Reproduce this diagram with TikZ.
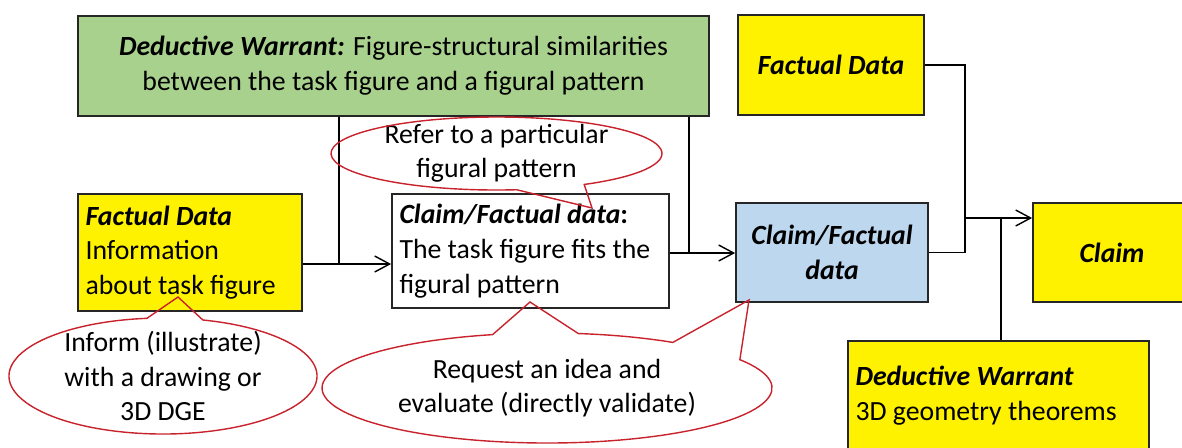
\documentclass[tikz,border=0pt]{standalone}
\usepackage{fontspec}
\setmainfont{Carlito}
\usetikzlibrary{arrows.meta,calc}
\definecolor{warrantgreen}{RGB}{169,209,142}
\definecolor{claimblue}{RGB}{189,215,238}
\definecolor{notered}{RGB}{200,35,45}
\tikzset{
  box/.style={draw=black!85, line width=1pt, inner sep=0pt, align=center, font=\fontsize{15.8}{19.8}\selectfont},
  yellowbox/.style={box, fill=yellow},
  leftbox/.style={align=flush left, inner xsep=0.15cm},
  note/.style={align=center, inner sep=0pt, font=\fontsize{15.8}{19.5}\selectfont},
  link/.style={line width=0.8pt},
  arrow/.style={-{Straight Barb[length=3mm,width=3.2mm]}, line width=0.8pt},
  callout/.style={draw=notered, line width=0.8pt}
}

\begin{document}
\begin{tikzpicture}[x=0.02cm, y=-0.02cm]
\useasboundingbox (0,0) rectangle (1182,447);
\clip (0,0) rectangle (1182,447);
% boxes
\node[box, fill=warrantgreen, minimum width=12.62cm, minimum height=2cm] (warrant) at (393.5,66) {\textbf{\textit{Deductive Warrant:}} Figure-structural similarities\\between the task figure and a figural pattern};
\node[yellowbox, leftbox, text width=4.18cm, minimum height=2.34cm] (datum) at (190,252.5) {\textbf{\textit{Factual Data}}\\Information\\about task figure};
\node[box, leftbox, fill=white, text width=5.24cm, minimum height=2.28cm] (task) at (530.5,251) {\textbf{\textit{Claim/Factual data}:}\\The task figure fits the\\figural pattern};
\node[box, fill=claimblue, minimum width=3.84cm, minimum height=1.98cm] (midclaim) at (832,252.5) {\textbf{\textit{Claim/Factual}}\\\textbf{\textit{data}}};
\node[yellowbox, minimum width=3.72cm, minimum height=2cm] (datum2) at (831,65) {\textbf{\textit{Factual Data}}};
\node[yellowbox, minimum width=3.16cm, minimum height=1.98cm] (claim) at (1112,252.5) {\textbf{\textit{Claim}}};
\node[yellowbox, leftbox, text width=5.72cm, minimum height=2.2cm] (warrant2) at (998.5,396) {\textbf{\textit{Deductive Warrant}}\\3D geometry theorems};
% connectors
\coordinate (j1) at (339,264);
\coordinate (j2) at (689,253);
\coordinate (j3) at (965,218);
\coordinate (j4) at (1001,218);
\draw[arrow] (datum.east |- j1) -- (task.west |- j1);
\draw[link] (warrant.south -| j1) -- (j1);
\draw[arrow] (task.east |- j2) -- (midclaim.west |- j2);
\draw[link] (warrant.south -| j2) -- (j2);
\draw[link] (midclaim.east) -| (j3) |- (datum2.east);
\draw[arrow] (j3) -- (claim.west |- j3);
\draw[link] (warrant2.north -| j4) -- (j4);
% callouts
\node[note] (refer) at (496.5,153.5) {Refer to a particular\\figural pattern};
\node[note] (inform) at (163,376) {Inform (illustrate)\\with a drawing or\\3D DGE};
\node[note] (request) at (547,388) {Request an idea and\\evaluate (directly validate)};
\coordinate (refertip) at (592,208);
\coordinate (informtip) at (178,297);
\coordinate (requesttip) at (530,302);
\coordinate (requesttip2) at (749,300);
\draw[callout] ($(refer)+(83:165.5 and 36.5)$) arc[start angle=83, end angle=418, x radius=165.5, y radius=36.5] -- (refertip) -- cycle;
\draw[callout] ($(inform)+(-75:154 and 58)$) arc[start angle=-75, end angle=264, x radius=154, y radius=58] -- (informtip) -- cycle;
\draw[callout] ($(request)+(-82:225 and 55)$) arc[start angle=-82, end angle=-56, x radius=225, y radius=55] -- (requesttip2) -- ($(request)+(-31:225 and 55)$) arc[start angle=-31, end angle=256, x radius=225, y radius=55] -- (requesttip) -- cycle;
\end{tikzpicture}
\end{document}
